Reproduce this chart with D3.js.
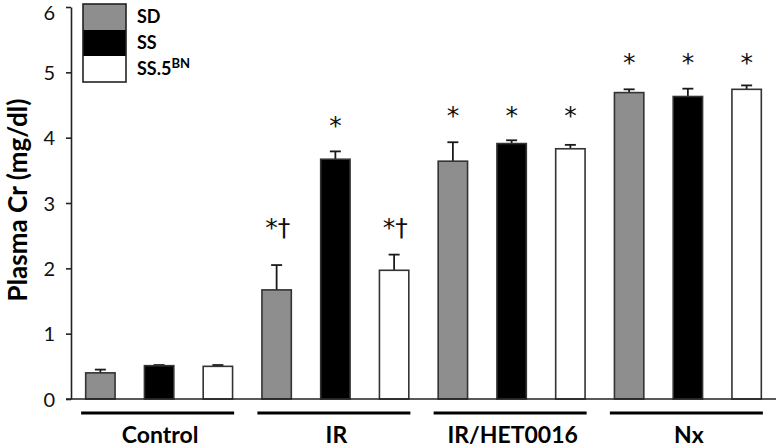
<!DOCTYPE html>
<html>
<head>
<meta charset="utf-8">
<script src="https://cdn.jsdelivr.net/npm/d3@7"></script>
<style>
  html, body { margin: 0; padding: 0; background: #fff; }
  svg { display: block; }
  text { font-family: Lato, "Open Sans", sans-serif; }
</style>
</head>
<body>
<div id="chart"></div>
<script>
// ---- data ----
const groups = ["Control", "IR", "IR/HET0016", "Nx"];
const series = ["SD", "SS", "SS.5BN"];
const seriesColors = ["#8e8e8e", "#000000", "#ffffff"];
const meanSD   = [0.40, 1.67, 3.64, 4.69];
const meanSS   = [0.51, 3.67, 3.91, 4.63];
const meanSS5  = [0.50, 1.97, 3.83, 4.74];
const errSD    = [0.05, 0.38, 0.29, 0.05];
const errSS    = [0.01, 0.12, 0.05, 0.12];
const errSS5   = [0.02, 0.24, 0.06, 0.06];
// significance marks per group / series, and the level (data units) where each group's marks sit
const sigSD  = ["", "*†", "*", "*"];
const sigSS  = ["", "*", "*", "*"];
const sigSS5 = ["", "*†", "*", "*"];
const sigLevelByGroup = [0, null, 4.43, 5.24];
const sigLevelIR = { "*†": 2.71, "*": 4.27 };
const yTicks = [0, 1, 2, 3, 4, 5, 6];
const yTitle = "Plasma Cr (mg/dl)";

const means = [meanSD, meanSS, meanSS5];
const errs = [errSD, errSS, errSS5];
const sigs = [sigSD, sigSS, sigSS5];

const W = 777, H = 448;
const svg = d3.select("#chart").append("svg").attr("width", W).attr("height", H);

const x0 = d3.scaleBand().domain(groups).range([71, 776]).paddingInner(0).paddingOuter(0);
const x1 = d3.scaleBand().domain(series).range([0, x0.bandwidth()]).paddingInner(0.5).paddingOuter(0.25);
const y = d3.scaleLinear().domain([0, 6]).range([399, 7]);
const color = d3.scaleOrdinal().domain(series).range(seriesColors);

const data = [];
groups.forEach((g, gi) => series.forEach((s, si) => {
  data.push({ g, gi, s, si, v: means[si][gi], e: errs[si][gi], sig: sigs[si][gi] });
}));

// error bars (drawn below bars)
const eb = svg.append("g").attr("stroke", "#1a1a1a").attr("stroke-width", 1.8);
data.forEach(d => {
  const cx = x0(d.g) + x1(d.s) + x1.bandwidth() / 2;
  eb.append("line").attr("x1", cx).attr("x2", cx).attr("y1", y(d.v)).attr("y2", y(d.v + d.e));
  eb.append("line").attr("x1", cx - 5.5).attr("x2", cx + 5.5).attr("y1", y(d.v + d.e)).attr("y2", y(d.v + d.e));
});

// bars
svg.append("g").selectAll("rect").data(data).join("rect")
  .attr("x", d => x0(d.g) + x1(d.s))
  .attr("y", d => y(d.v))
  .attr("width", x1.bandwidth())
  .attr("height", d => y(0) - y(d.v))
  .attr("fill", d => color(d.s))
  .attr("stroke", "#333")
  .attr("stroke-width", 1.6);

// significance marks
svg.append("g").selectAll("text").data(data.filter(d => d.sig)).join("text")
  .attr("x", d => x0(d.g) + x1(d.s) + x1.bandwidth() / 2 + (d.sig.length > 1 ? 1 : 0))
  .attr("y", d => {
    const lvl = d.gi === 1 ? sigLevelIR[d.sig] : sigLevelByGroup[d.gi];
    return y(lvl) + 14;
  })
  .attr("text-anchor", "middle")
  .style("font-family", "'DejaVu Sans', sans-serif")
  .style("font-size", "25px")
  .attr("fill", "#111")
  .text(d => d.sig);

// y axis
const yAxis = svg.append("g").attr("transform", "translate(71,0)")
  .call(d3.axisLeft(y).tickValues(yTicks).tickFormat(d3.format("d")).tickSize(5).tickSizeOuter(0).tickPadding(11));
yAxis.select(".domain").attr("stroke", "#222").attr("stroke-width", 1.6);
yAxis.selectAll(".tick line").attr("stroke", "#222").attr("stroke-width", 1.6);
yAxis.selectAll(".tick text")
  .attr("dy", d => d === 6 ? "0.6em" : "0.36em")
  .style("font-family", "Lato, sans-serif").style("font-size", "20px").attr("fill", "#111");

// x baseline
svg.append("line").attr("x1", 66).attr("x2", 776).attr("y1", y(0)).attr("y2", y(0))
  .attr("stroke", "#222").attr("stroke-width", 1.6);

// group underlines & labels
const gl = svg.append("g");
groups.forEach(g => {
  const c = x0(g) + x0.bandwidth() / 2;
  gl.append("line").attr("x1", c - 78).attr("x2", c + 75).attr("y1", 413).attr("y2", 413)
    .attr("stroke", "#000").attr("stroke-width", 3);
  gl.append("text").attr("x", c + 1).attr("y", 443).attr("text-anchor", "middle")
    .style("font-size", "23px").style("font-weight", "bold").attr("fill", "#000").text(g);
});

// y title
svg.append("text").attr("transform", "translate(27,200) rotate(-90)")
  .attr("text-anchor", "middle").style("font-size", "26px").style("font-weight", "bold")
  .attr("fill", "#000").text(yTitle);

// legend
const lg = svg.append("g");
const swH = 26;
series.forEach((s, i) => {
  lg.append("rect").attr("x", 83).attr("y", 4 + i * swH).attr("width", 43).attr("height", swH)
    .attr("fill", color(s)).attr("stroke", "none");
  const t = lg.append("text").attr("x", 137).attr("y", 4 + i * swH + swH / 2 + 6)
    .style("font-size", "18px").style("font-weight", "bold").attr("fill", "#000");
  if (s === "SS.5BN") {
    t.append("tspan").text("SS.5");
    t.append("tspan").attr("dy", -7).style("font-size", "13px").text("BN");
  } else {
    t.text(s);
  }
});
lg.append("rect").attr("x", 83).attr("y", 4).attr("width", 43).attr("height", swH * 3)
  .attr("fill", "none").attr("stroke", "#222").attr("stroke-width", 1.6);
</script>
</body>
</html>
